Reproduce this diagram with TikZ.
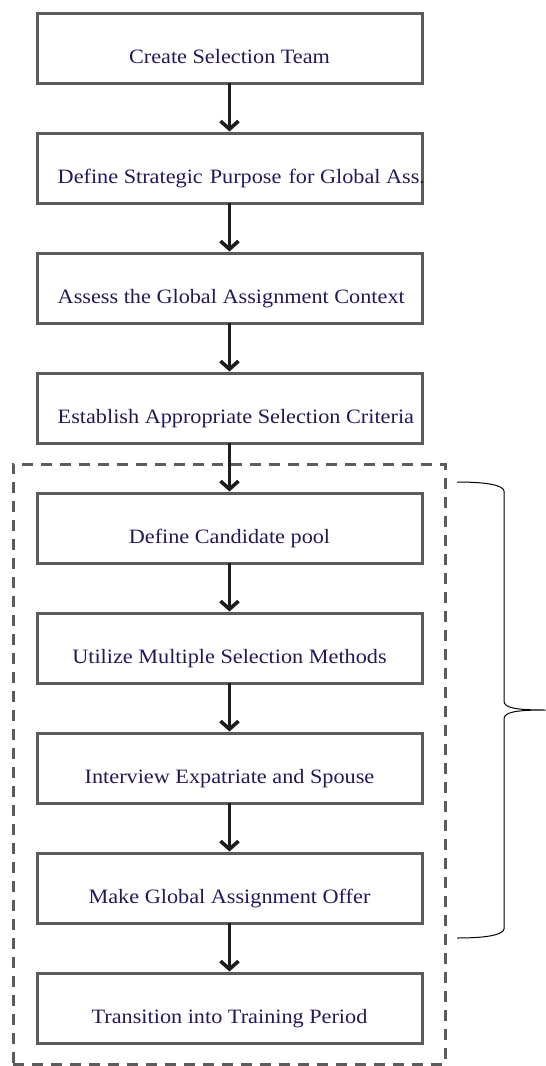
\documentclass[tikz,border=0pt]{standalone}
\usepackage{fontspec}
\setmainfont[FakeStretch=1.09]{Liberation Serif}
\usetikzlibrary{arrows.meta}
\definecolor{txtblue}{RGB}{32,26,88}
\definecolor{boxgray}{RGB}{92,92,92}
\definecolor{arrowdark}{RGB}{30,30,30}
\begin{document}
\begin{tikzpicture}[x=1bp,y=-1bp,
  stepbox/.style={draw=boxgray,line width=3bp,rectangle,minimum width=385bp,minimum height=70bp,inner sep=0pt,outer sep=0pt,anchor=north west},
  lbl/.style={text=txtblue,font=\fontsize{20.4bp}{24bp}\selectfont,inner sep=0pt,anchor=base},
  lbll/.style={lbl,anchor=base west},
  flow/.style={draw=arrowdark,line width=2.4bp,shorten >=1.5bp,-{Straight Barb[length=8bp,width=18bp,line width=3.6bp]}},
  groupbox/.style={draw=boxgray,line width=3bp,dash pattern=on 11bp off 8bp,rectangle,minimum width=432bp,minimum height=600bp,inner sep=0pt,outer sep=0pt,anchor=north west},
  bracepath/.style={draw=black,line width=1bp}]
\useasboundingbox (0,0) rectangle (546,1066);
% group
\node[groupbox] (grp) at (13,464) {};
% boxes
\node[stepbox] (b1) at (37,13) {};
\node[stepbox] (b2) at (37,133) {};
\node[stepbox] (b3) at (37,253) {};
\node[stepbox] (b4) at (37,373) {};
\node[stepbox] (b5) at (37,493) {};
\node[stepbox] (b6) at (37,613) {};
\node[stepbox] (b7) at (37,733) {};
\node[stepbox] (b8) at (37,853) {};
\node[stepbox] (b9) at (37,973) {};
% labels
\node[lbl]  (t1) at (229.5,63)  {Create Selection Team};
\node[lbll] (t2) at (57.5,183)  {Define Strategic\hspace{1.5bp} Purpose\hspace{1.5bp} for Global Ass.};
\node[lbll] (t3) at (57.5,303)  {Assess the Global Assignment Context};
\node[lbll] (t4) at (57.5,423)  {Establish Appropriate Selection Criteria};
\node[lbl]  (t5) at (229.5,543) {Define Candidate pool};
\node[lbl]  (t6) at (229.5,663) {Utilize Multiple Selection Methods};
\node[lbl]  (t7) at (229.5,783) {Interview Expatriate and Spouse};
\node[lbl]  (t8) at (229.5,903) {Make Global Assignment Offer};
\node[lbl]  (t9) at (229.5,1023) {Transition into Training Period};
% arrows
\draw[flow] (b1.south) -- (b2.north);
\draw[flow] (b2.south) -- (b3.north);
\draw[flow] (b3.south) -- (b4.north);
\draw[flow] (b4.south) -- (b5.north);
\draw[flow] (b5.south) -- (b6.north);
\draw[flow] (b6.south) -- (b7.north);
\draw[flow] (b7.south) -- (b8.north);
\draw[flow] (b8.south) -- (b9.north);
% brace
\coordinate (brtop) at (457,482);
\coordinate (brtip) at (545.5,710);
\coordinate (brbot) at (457,938);
\draw[bracepath] (brtop) .. controls (486,482) and (503,485) .. (504,491)
  -- (504,701) .. controls (504,708) and (516,710) .. (brtip)
  .. controls (516,710) and (504,712) .. (504,719)
  -- (504,929) .. controls (503,935) and (486,938) .. (brbot);
\end{tikzpicture}
\end{document}
